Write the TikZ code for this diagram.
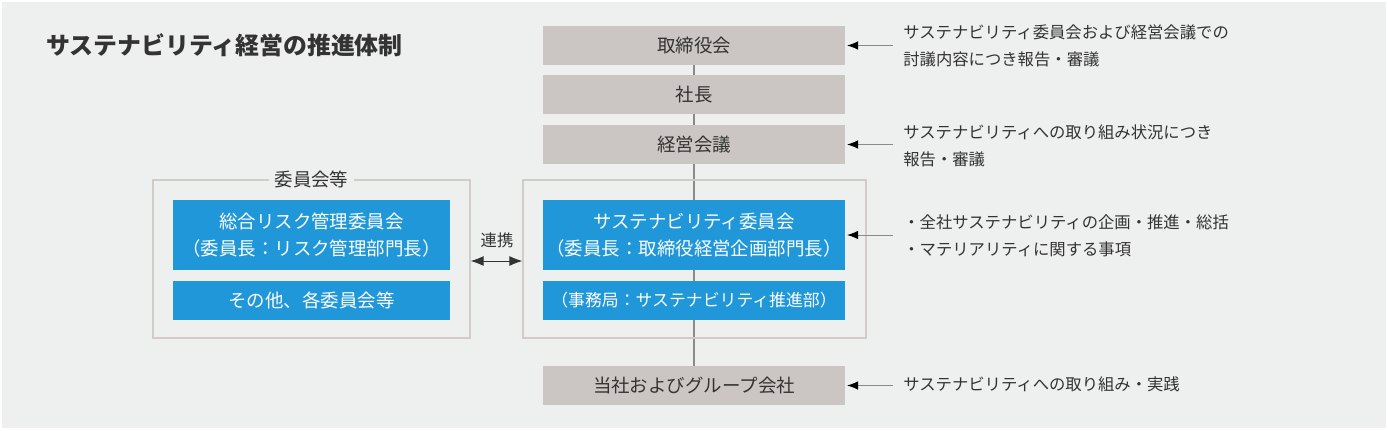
\documentclass[tikz,border=0pt]{standalone}
\usepackage{fontspec}
\setmainfont{Noto Sans CJK JP}
\usepackage{tikz}
\usetikzlibrary{arrows.meta,positioning,backgrounds}
\definecolor{bgcol}{HTML}{EEEFEF}
\definecolor{boxgray}{HTML}{CBC6C3}
\definecolor{boxblue}{HTML}{1F97D8}
\definecolor{textdark}{HTML}{333333}
\definecolor{linegray}{HTML}{8A8A8A}
\definecolor{framegray}{HTML}{D2CBC6}

\begin{document}
\begin{tikzpicture}[x=0.02cm,y=-0.02cm,
        graybox/.style={fill=boxgray, text=textdark, minimum width=6.04cm, minimum height=0.78cm, font=\fontsize{10.5}{12}\selectfont, inner sep=0},
        bluebox/.style={fill=boxblue, text=white, minimum height=0.78cm, font=\fontsize{10.5}{15.5}\selectfont, align=center, inner sep=0},
        frame/.style={draw=framegray, line width=0.8pt, minimum height=3.16cm, inner sep=0},
        note/.style={anchor=west, text=textdark, align=left, inner sep=0, font=\fontsize{9.3}{15.3}\selectfont},
        noteline/.style={draw=linegray, line width=0.5pt, -{Latex[length=2.2mm,width=1.7mm,black]}, shorten >=1pt},
        spine/.style={draw=linegray, line width=0.6pt}]
            \begin{scope}[on background layer]
            \fill[white] (0,0) rectangle (1388,430);
            \fill[bgcol] (2,2) rectangle (1386,428);
            \end{scope}

            \node[anchor=west, text=textdark, font=\fontsize{13.6}{16}\selectfont\bfseries] (title) at (40,45) {サステナビリティ経営の推進体制};

            % frames
            \node[frame, minimum width=6.34cm] (others) at (311.5,259) {};
            \node[frame, minimum width=6.86cm] (susframe) at (694.5,259) {};
            \node[fill=bgcol, text=textdark, inner sep=3pt, font=\fontsize{10.5}{12}\selectfont] (otherslabel) at (others.north) {委員会等};

            % main column
            \node[graybox] (board) at (694,45.5) {取締役会};
            \node[graybox] (president) at (694,94.5) {社長};
            \node[graybox] (mgmt) at (694,144.5) {経営会議};
            \node[graybox] (group) at (694,385.5) {当社およびグループ会社};
            \begin{scope}[on background layer]
            \draw[spine] (board.center) -- (group.center);
            \end{scope}

            \node[bluebox, minimum width=6.04cm, minimum height=1.4cm] (suscomm) at (694,235) {サステナビリティ委員会\\（委員長：取締役経営企画部門長）};
            \node[bluebox, minimum width=6.04cm, font=\fontsize{9.6}{12}\selectfont] (office) at (694,300.5) {（事務局：サステナビリティ推進部）};
            \node[bluebox, minimum width=5.54cm, minimum height=1.4cm] (riskcomm) at (311.5,235) {総合リスク管理委員会\\（委員長：リスク管理部門長）};
            \node[bluebox, minimum width=5.54cm] (othercomm) at (311.5,300.5) {その他、各委員会等};

            % link
            \draw[{Latex[length=2.6mm,width=2mm]}-{Latex[length=2.6mm,width=2mm]}, line width=0.5pt, draw=textdark] ([yshift=-0.04cm]others.east) -- ([yshift=-0.04cm]susframe.west);
            \node[text=textdark, font=\fontsize{9.3}{12}\selectfont] (linklabel) at (497,240) {連携};

            % notes
            \node[note] (note1) at (903,46) {サステナビリティ委員会および経営会議での\\討議内容につき報告・審議};
            \node[note] (note2) at (903,146) {サステナビリティへの取り組み状況につき\\報告・審議};
            \node[note] (note3) at (903,236) {・全社サステナビリティの企画・推進・総括\\・マテリアリティに関する事項};
            \node[note] (note4) at (903,384) {サステナビリティへの取り組み・実践};

            \draw[noteline] ([xshift=-0.2cm]note1.west |- board.east) -- (board.east);
            \draw[noteline] ([xshift=-0.2cm]note2.west |- mgmt.east) -- (mgmt.east);
            \draw[noteline] ([xshift=-0.2cm]note3.west |- suscomm.east) -- (suscomm.east);
            \draw[noteline] ([xshift=-0.2cm]note4.west |- group.east) -- (group.east);
        \end{tikzpicture}
\end{document}
